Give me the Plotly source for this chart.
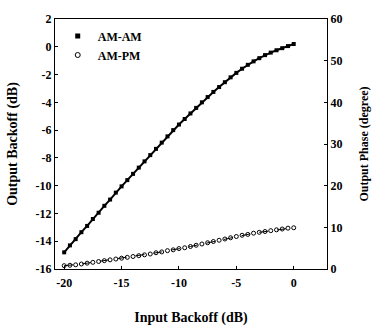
import plotly.graph_objects as go

input_backoff = [-20, -19.5, -19, -18.5, -18, -17.5, -17, -16.5, -16, -15.5, -15,
                 -14.5, -14, -13.5, -13, -12.5, -12, -11.5, -11, -10.5, -10,
                 -9.5, -9, -8.5, -8, -7.5, -7, -6.5, -6, -5.5, -5,
                 -4.5, -4, -3.5, -3, -2.5, -2, -1.5, -1, -0.5, 0]

am_am = [-14.8, -14.3, -13.85, -13.35, -12.9, -12.4, -11.95, -11.45, -11.0, -10.5, -10.05,
         -9.6, -9.15, -8.7, -8.25, -7.8, -7.35, -6.9, -6.45, -6.0, -5.6,
         -5.2, -4.8, -4.4, -4.0, -3.62, -3.25, -2.9, -2.55, -2.2, -1.88,
         -1.58, -1.3, -1.05, -0.82, -0.6, -0.42, -0.25, -0.1, 0.05, 0.2]

am_pm = [0.8, 0.9, 1.0, 1.2, 1.4, 1.6, 1.8, 2.0, 2.2, 2.4, 2.6,
         2.8, 3.0, 3.2, 3.4, 3.6, 3.9, 4.1, 4.4, 4.6, 4.9,
         5.1, 5.4, 5.7, 6.0, 6.3, 6.6, 6.9, 7.2, 7.5, 7.8,
         8.1, 8.3, 8.6, 8.8, 9.0, 9.2, 9.4, 9.6, 9.8, 9.9]

x_ticks = [-20, -15, -10, -5, 0]
y_left_ticks = [2, 0, -2, -4, -6, -8, -10, -12, -14, -16]
y_right_ticks = [0, 10, 20, 30, 40, 50, 60]

FONT = "Liberation Serif"

fig = go.Figure()
fig.add_trace(go.Scatter(
    x=input_backoff, y=am_am, name="<b>AM-AM</b>", mode="lines+markers",
    line=dict(color="black", width=2),
    marker=dict(symbol="square", size=4, color="black"),
    showlegend=False,
))
fig.add_trace(go.Scatter(
    x=input_backoff, y=am_pm, name="<b>AM-PM</b>", mode="lines+markers", yaxis="y2",
    line=dict(color="black", width=1, dash="dash"),
    marker=dict(symbol="circle-open", size=4, color="black", line=dict(width=1)),
    showlegend=False,
))
# legend entries (no data)
fig.add_trace(go.Scatter(
    x=[None], y=[None], name="<b>AM-AM</b>", mode="markers",
    marker=dict(symbol="square", size=5, color="black"),
))
fig.add_trace(go.Scatter(
    x=[None], y=[None], name="<b>AM-PM</b>", mode="markers",
    marker=dict(symbol="circle-open", size=5, color="black", line=dict(width=1)),
))

fig.update_layout(
    width=381, height=334,
    margin=dict(l=53, r=49, t=14, b=56),
    paper_bgcolor="white", plot_bgcolor="white",
    font=dict(family=FONT, size=12, color="black"),
    showlegend=True,
    legend=dict(x=0.01, y=0.99, xanchor="left", yanchor="top",
                bgcolor="rgba(0,0,0,0)", font=dict(family=FONT, size=12),
                itemwidth=30, tracegroupgap=4),
    xaxis=dict(
        range=[-20.8, 2.9], tickvals=x_ticks,
        ticktext=["<b>%d</b>" % v for v in x_ticks],
        showgrid=False, zeroline=False,
        showline=True, linecolor="black", linewidth=1, mirror=True,
        ticks="inside", ticklen=3, tickcolor="black", ticklabelstandoff=3,
        title=dict(text="<b>Input Backoff (dB)</b>", font=dict(family=FONT, size=14), standoff=22),
    ),
    yaxis=dict(
        range=[-16, 2], tickvals=y_left_ticks,
        ticktext=["<b>%d</b>" % v for v in y_left_ticks],
        showgrid=False, zeroline=False,
        showline=True, linecolor="black", linewidth=1,
        ticks="inside", ticklen=3, tickcolor="black",
        title=dict(text="<b>Output Backoff (dB)</b>", font=dict(family=FONT, size=14), standoff=14),
    ),
    yaxis2=dict(
        range=[0, 60], tickvals=y_right_ticks,
        ticktext=["<b>%d</b>" % v for v in y_right_ticks],
        overlaying="y", side="right",
        showgrid=False, zeroline=False,
        showline=True, linecolor="black", linewidth=1,
        ticks="inside", ticklen=3, tickcolor="black",
        title=dict(text="<b>Output Phase (degree)</b>", font=dict(family=FONT, size=12), standoff=18),
    ),
)

fig.write_html(
    "out.html",
    config={"displayModeBar": False},
    post_script="document.body.style.margin='0';document.body.style.overflow='hidden';",
)
